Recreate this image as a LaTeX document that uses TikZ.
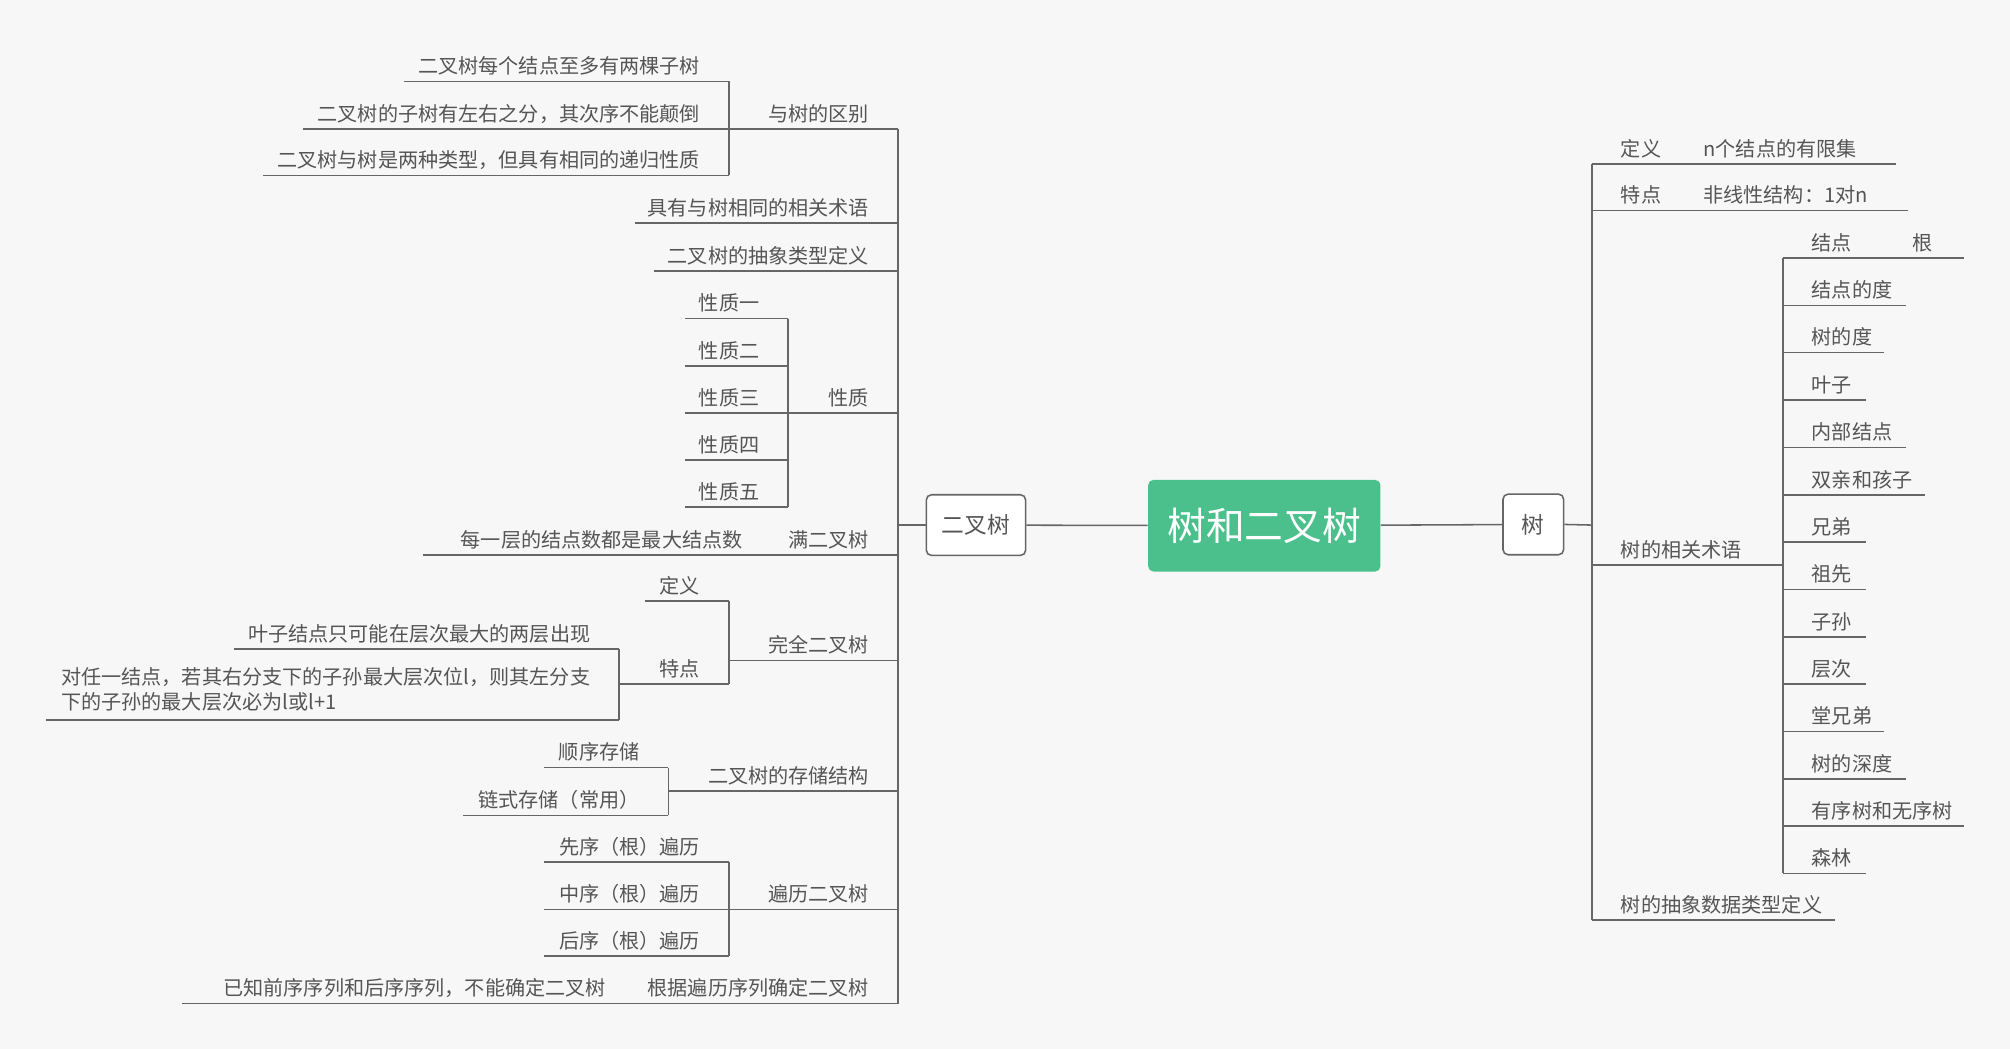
\documentclass[tikz,border=0pt]{standalone}
\usepackage{fontspec}
\setmainfont{Noto Sans CJK SC}
\usetikzlibrary{positioning}
\definecolor{bg}{HTML}{F7F7F7}
\definecolor{ink}{HTML}{555555}
\definecolor{wire}{HTML}{666666}
\definecolor{topic}{HTML}{4CC08C}
\tikzset{
  lbl/.style={inner sep=0pt,text=ink,font=\fontsize{7.8}{10}\selectfont},
  wirel/.style={draw=wire,line width=0.6pt},
  sub/.style={draw=wire,fill=white,rounded corners=2pt,text=ink,
    font=\fontsize{8.8}{10}\selectfont,line width=0.6pt}
}
% left branch: underline x1--x2 at y, text right aligned
\newcommand{\lbr}[5]{%
  \node[lbl,anchor=base east] (#1) at ({#3-22},{#4-6}) {#5};
  \draw[wirel] ({#2},{#4}) -- ({#3},{#4});}
% right branch: text left aligned
\newcommand{\rbr}[5]{%
  \node[lbl,anchor=base west] (#1) at ({#2+22},{#4-6}) {#5};
  \draw[wirel] ({#2},{#4}) -- ({#3},{#4});}
\begin{document}
\begin{tikzpicture}[x=0.5pt,y=-0.5pt]
  \fill[bg] (0,0) rectangle (1558,813);
  \useasboundingbox (0,0) rectangle (1558,813);

  % centre
  \node[fill=topic,rounded corners=2pt,minimum width=90pt,minimum height=35.5pt,
    text=white,font=\fontsize{15}{18}\selectfont] (root) at (980,407.5) {树和二叉树};
  \node[sub,minimum width=38.5pt,minimum height=23.5pt] (bt) at (756.5,407) {二叉树};
  \node[sub,minimum width=23.5pt,minimum height=23.5pt] (tr) at (1188.5,406.5) {树};
  \draw[wirel] (bt) -- (root);
  \draw[wirel] (root) -- (tr);

  % left side
  \draw[wirel] (bt.west) -- (696,407);
  \draw[wirel] (696,100) -- (696,778);
  \lbr{diff}{565}{696}{100}{与树的区别}
  \draw[wirel] (565,63) -- (565,136);
  \lbr{d1}{313}{565}{63}{二叉树每个结点至多有两棵子树}
  \lbr{d2}{235}{565}{100}{二叉树的子树有左右之分，其次序不能颠倒}
  \lbr{d3}{204}{565}{136}{二叉树与树是两种类型，但具有相同的递归性质}
  \lbr{term}{492}{696}{173}{具有与树相同的相关术语}
  \lbr{adt}{507}{696}{210}{二叉树的抽象类型定义}
  \lbr{prop}{611}{696}{320}{性质}
  \draw[wirel] (611,247) -- (611,393);
  \foreach \t [count=\i] in {一,二,三,四,五}
    \lbr{p\i}{531}{611}{247+36.5*(\i-1)}{性质\t};
  \lbr{full}{598}{696}{430}{满二叉树}
  \lbr{full1}{328}{598}{430}{每一层的结点数都是最大结点数}
  \lbr{comp}{565}{696}{512}{完全二叉树}
  \draw[wirel] (565,466) -- (565,530);
  \lbr{cdef}{500}{565}{466}{定义}
  \lbr{cfeat}{480}{565}{530}{特点}
  \draw[wirel] (480,503) -- (480,558);
  \lbr{cf1}{181}{480}{503}{叶子结点只可能在层次最大的两层出现}
  \node[lbl,anchor=south west,align=left] (cf2) at (47,552)
    {对任一结点，若其右分支下的子孙最大层次位l，则其左分支\\下的子孙的最大层次必为l或l+1};
  \draw[wirel] (36,558) -- (480,558);
  \lbr{store}{518}{696}{613}{二叉树的存储结构}
  \draw[wirel] (518,595) -- (518,632);
  \lbr{s1}{422}{518}{595}{顺序存储}
  \lbr{s2}{359}{518}{632}{链式存储（常用）}
  \lbr{trav}{565}{696}{705}{遍历二叉树}
  \draw[wirel] (565,668) -- (565,741);
  \lbr{t1}{422}{565}{668}{先序（根）遍历}
  \lbr{t2}{422}{565}{705}{中序（根）遍历}
  \lbr{t3}{422}{565}{741}{后序（根）遍历}
  \lbr{det}{492}{696}{778}{根据遍历序列确定二叉树}
  \lbr{det1}{141}{492}{778}{已知前序序列和后序序列，不能确定二叉树}

  % right side
  \draw[wirel] (tr.east) -- (1234,407);
  \draw[wirel] (1234,127) -- (1234,713);
  \rbr{tdef}{1234}{1298}{127}{定义}
  \rbr{tdef1}{1298}{1470}{127}{n个结点的有限集}
  \rbr{tfeat}{1234}{1298}{163}{特点}
  \rbr{tfeat1}{1298}{1479}{163}{非线性结构：1对n}
  \rbr{tterm}{1234}{1382}{438}{树的相关术语}
  \draw[wirel] (1382,200) -- (1382,677);
  \rbr{k1}{1382}{1460}{200}{结点}
  \rbr{k1a}{1460}{1522}{200}{根}
  \foreach \t/\e [count=\i from 2] in {结点的度/1477,树的度/1460,叶子/1446,
      内部结点/1477,双亲和孩子/1492,兄弟/1446,祖先/1446,子孙/1446,层次/1446,
      堂兄弟/1460,树的深度/1477,有序树和无序树/1522,森林/1446}
    \rbr{k\i}{1382}{\e}{200+36.7*(\i-1)}{\t};
  \rbr{tadt}{1234}{1422}{713}{树的抽象数据类型定义}
\end{tikzpicture}
\end{document}
